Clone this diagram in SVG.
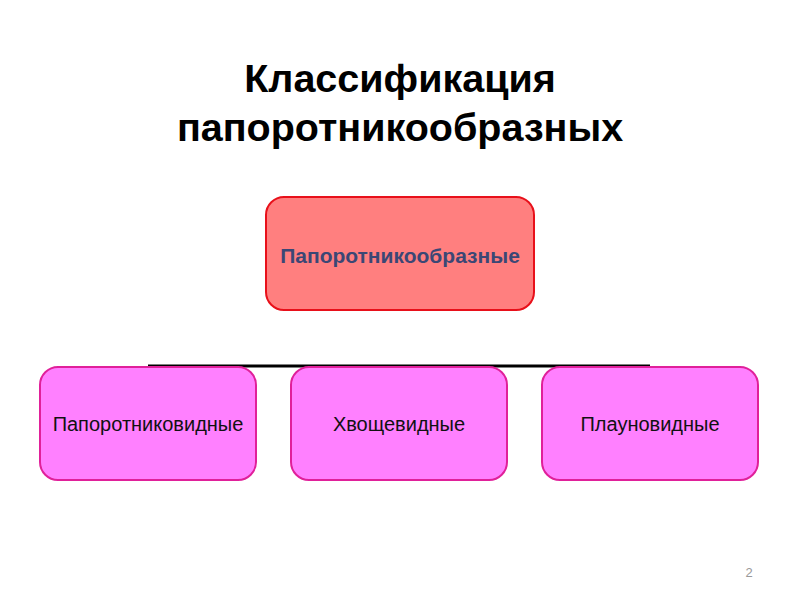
<svg xmlns="http://www.w3.org/2000/svg" width="800" height="600" viewBox="0 0 800 600">
<style>
.title{font-family:"Liberation Sans",Arial,sans-serif;font-weight:bold;font-size:39.5px;fill:#000;text-anchor:middle}
.root rect{fill:#ff7f7f;stroke:#e8101a;stroke-width:2}
.root text{font-family:"Liberation Sans",Arial,sans-serif;font-weight:bold;font-size:21px;fill:#3b4775;text-anchor:middle}
.child rect{fill:#ff80ff;stroke:#e0209a;stroke-width:2}
.child text{font-family:"Liberation Sans",Arial,sans-serif;font-size:20px;fill:#111;text-anchor:middle}
.num{font-family:"Liberation Sans",Arial,sans-serif;font-size:13px;fill:#999;text-anchor:middle}
</style>
<rect width="800" height="600" fill="#fff"/>
<text class="title" x="400" y="92">Классификация</text>
<text class="title" x="400" y="141">папоротникообразных</text>
<g id="connectors">
<line x1="148" y1="366" x2="650" y2="366" stroke="#000" stroke-width="3"/>
</g>
<g id="root" class="root">
<rect x="266" y="197" width="268" height="113" rx="18"/>
<text x="400" y="263">Папоротникообразные</text>
</g>
<g id="child1" class="child">
<rect x="40" y="367" width="216" height="113" rx="18"/>
<text x="148" y="431">Папоротниковидные</text>
</g>
<g id="child2" class="child">
<rect x="291" y="367" width="216" height="113" rx="18"/>
<text x="399" y="431">Хвощевидные</text>
</g>
<g id="child3" class="child">
<rect x="542" y="367" width="216" height="113" rx="18"/>
<text x="650" y="431">Плауновидные</text>
</g>
<text class="num" x="749" y="577">2</text>
</svg>
